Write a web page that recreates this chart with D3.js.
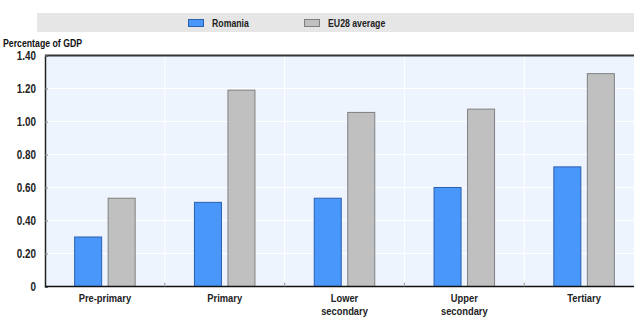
<!DOCTYPE html>
<html><head><meta charset="utf-8">
<script src="https://cdn.jsdelivr.net/npm/d3@7"></script>
<style>
body{margin:0;background:#fff;}
text{font-family:"Liberation Sans",Arial,sans-serif;font-weight:bold;}
</style></head>
<body><svg id="c" width="634" height="318"></svg>
<script>
const categories = [["Pre-primary"],["Primary"],["Lower","secondary"],["Upper","secondary"],["Tertiary"]];
const romania = [0.30, 0.51, 0.535, 0.60, 0.725];
const eu28 = [0.535, 1.19, 1.055, 1.075, 1.29];
const seriesNames = ["Romania","EU28 average"];
const yTicks = [0, 0.2, 0.4, 0.6, 0.8, 1.0, 1.2, 1.4];

const SX = 0.76;
const svg = d3.select("#c");
const L = 45, R = 644, T = 55.5, B = 286.5;
const x = d3.scaleBand().domain(d3.range(categories.length)).range([L, R]);
const y = d3.scaleLinear().domain([0, 1.4]).range([B, T]);

function label(px, py, str, anchor, size, sx){
  return svg.append("text").attr("transform",`translate(${px},${py}) scale(${sx||SX},1)`)
    .attr("text-anchor",anchor||"start").attr("font-size",size||11.5).attr("fill","#222").text(str);
}

// legend band
svg.append("rect").attr("x",37).attr("y",13).attr("width",597).attr("height",19).attr("fill","#e6e6e6");
const leg = [{x:188, fill:"#4a97fb", stroke:"#2b5fb0"},{x:304, fill:"#c0c0c0", stroke:"#7f7f7f"}];
leg.forEach((d,i)=>{
  svg.append("rect").attr("x",d.x+0.5).attr("y",19.5).attr("width",15).attr("height",7).attr("fill",d.fill).attr("stroke",d.stroke);
  label(d.x+24, 27, seriesNames[i]);
});

// plot background
svg.append("rect").attr("x",L).attr("y",T).attr("width",R-L).attr("height",B-T).attr("fill","#edf4fe");
// horizontal grid
svg.selectAll(".hg").data(yTicks.slice(1,-1)).enter().append("line")
  .attr("x1",L).attr("x2",R).attr("y1",d=>y(d)).attr("y2",d=>y(d)).attr("stroke","#fff").attr("stroke-width",1.2);
// vertical grid
svg.selectAll(".vg").data(d3.range(1,categories.length)).enter().append("line")
  .attr("x1",d=>x(d)).attr("x2",d=>x(d)).attr("y1",T).attr("y2",B).attr("stroke","#fff").attr("stroke-width",1);

// bars
const bw = 27, gap = 6.5;
const groups = [romania, eu28];
const fills = ["#4a97fb","#c0c0c0"], strokes = ["#2b5fb0","#808080"];
groups.forEach((arr,s)=>{
  svg.selectAll(".b"+s).data(arr).enter().append("rect")
    .attr("x",(d,i)=>x(i)+x.bandwidth()/2 - bw - gap/2 + s*(bw+gap))
    .attr("y",d=>y(d)).attr("width",bw).attr("height",d=>B-y(d))
    .attr("fill",fills[s]).attr("stroke",strokes[s]).attr("stroke-width",1);
});

// frame top
svg.append("line").attr("x1",L).attr("x2",R).attr("y1",T).attr("y2",T).attr("stroke","#333").attr("stroke-width",2);
// y axis
const ya = svg.append("g").attr("transform",`translate(${L},0)`)
  .call(d3.axisLeft(y).tickValues(yTicks).tickSize(-3).tickFormat(""));
ya.select(".domain").attr("stroke","#222").attr("stroke-width",1.5);
ya.selectAll(".tick line").attr("stroke","#888");
yTicks.forEach(v=>label(36, y(v)+4.5, v===0?"0":d3.format(".2f")(v), "end", 13));
// x axis
svg.append("line").attr("x1",L).attr("x2",R).attr("y1",B).attr("y2",B).attr("stroke","#111").attr("stroke-width",1.5);
svg.selectAll(".xt").data(d3.range(1,categories.length)).enter().append("line")
  .attr("x1",d=>x(d)).attr("x2",d=>x(d)).attr("y1",B).attr("y2",B-4).attr("stroke","#999");
categories.forEach((c,i)=>{
  c.forEach((s,j)=>label(x(i)+x.bandwidth()/2, 302 + j*12.5, s, "middle", 11, 0.85));
});
// y title
label(3, 47, "Percentage of GDP", "start", 11.5).attr("fill","#111");
</script></body></html>
